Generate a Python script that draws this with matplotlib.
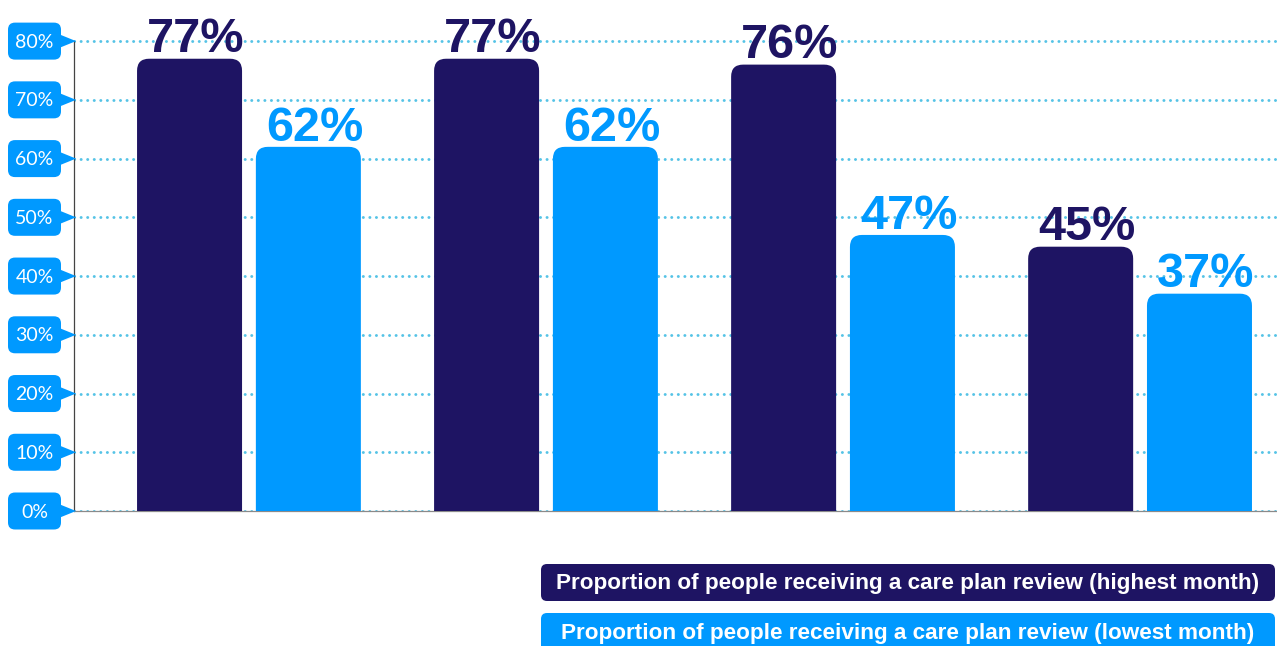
import matplotlib

matplotlib.use("Agg")
import matplotlib.pyplot as plt
import matplotlib.transforms as mtransforms
from matplotlib.patches import FancyBboxPatch, Polygon
import numpy as np

# Values per group (percent)
highest_month = [77, 77, 76, 45]
lowest_month = [62, 62, 47, 37]
series_labels = [
    "Proportion of people receiving a care plan review (highest month)",
    "Proportion of people receiving a care plan review (lowest month)",
]
y_ticks = [0, 10, 20, 30, 40, 50, 60, 70, 80]

NAVY = "#1e1463"
BLUE = "#0099ff"
DOTS = "#55c3e6"

W, H = 1277, 646
fig = plt.figure(figsize=(W / 100, H / 100), dpi=100)
ax = fig.add_axes([74 / W, 1 - 511 / H, 1 - 74 / W, 511 / H])

x = np.arange(len(highest_month))
bar_w = 0.3535
offset = 0.2
ax.set_xlim(-0.589, 3.461)
ax.set_ylim(0, 87)

bars_hi = ax.bar(x - offset, highest_month, bar_w, color=NAVY)
bars_lo = ax.bar(x + offset, lowest_month, bar_w, color=BLUE)

# pixel size of one data unit in x and y
p0 = ax.transData.transform((0, 0))
p1 = ax.transData.transform((1, 1))
px_x, px_y = p1 - p0


def round_top(bars, color, radius_px=12):
    rx = radius_px / px_x
    ry = radius_px / px_y
    for b in bars:
        b.set_visible(False)
        bx, by = b.get_x(), b.get_y()
        bw, bh = b.get_width(), b.get_height()
        # extend below zero so only the top corners show rounding
        ax.add_patch(
            FancyBboxPatch(
                (bx, by - 3 * ry),
                bw,
                bh + 3 * ry,
                boxstyle=f"round,pad=0,rounding_size={rx}",
                mutation_aspect=ry / rx,
                facecolor=color,
                edgecolor="none",
                zorder=3,
            )
        )


round_top(bars_hi, NAVY)
round_top(bars_lo, BLUE)

for bars, vals, color in [(bars_hi, highest_month, NAVY), (bars_lo, lowest_month, BLUE)]:
    for b, v in zip(bars, vals):
        ax.annotate(
            f"{v}%",
            (b.get_x() + b.get_width() / 2, v),
            xytext=(4.5, 4.5),
            textcoords="offset points",
            ha="center",
            va="baseline",
            fontsize=35,
            fontweight="bold",
            family="Liberation Sans",
            color=color,
            zorder=5,
        )

ax.set_yticks(y_ticks)
ax.tick_params(length=0, labelleft=False, labelbottom=False)
ax.set_xticks([])
ax.grid(axis="y", color=DOTS, linestyle=(0, (0.05, 2.2)), linewidth=2.1,
        dash_capstyle="round")
ax.set_axisbelow(True)
for side in ["top", "right"]:
    ax.spines[side].set_visible(False)
ax.spines["left"].set_bounds(0, 80)
ax.spines["left"].set_color("#444444")
ax.spines["left"].set_linewidth(0.9)
ax.spines["bottom"].set_color("#8a8a8a")
ax.spines["bottom"].set_linewidth(0.9)

# tick labels: rounded tags with a pointer, in pixel units anchored at the axis
px = mtransforms.Affine2D().scale(fig.dpi / 100)
for v in y_ticks:
    tr = px + mtransforms.ScaledTranslation(0, v, ax.get_yaxis_transform())
    ax.add_patch(
        FancyBboxPatch(
            (-66, -18.5), 53, 37,
            boxstyle="round,pad=0,rounding_size=7",
            facecolor=BLUE, edgecolor="none", transform=tr, clip_on=False, zorder=6,
        )
    )
    ax.add_patch(
        Polygon([(-14, 6.5), (2, 0), (-14, -6.5)], closed=True,
                facecolor=BLUE, edgecolor="none", transform=tr, clip_on=False, zorder=6)
    )
    ax.text(-39.5, -1, f"{v}%", transform=tr, ha="center", va="center",
            fontsize=14, family="Lato", color="white", zorder=7)

# legend tags along the bottom right
for (y0, y1), label, color in zip([(564, 601), (613, 652)], series_labels, [NAVY, BLUE]):
    fig.patches.append(
        FancyBboxPatch(
            (541, H - y1), 1275 - 541, y1 - y0,
            boxstyle="round,pad=0,rounding_size=6",
            facecolor=color, edgecolor="none", transform=px,
        )
    )
    fig.text((541 + 1275) / 2 / W, 1 - ((y0 + min(y1, 651)) / 2 + 1) / H, label,
             ha="center", va="center", fontsize=16.2, fontweight="bold",
             family="Liberation Sans", color="white")

fig.savefig("out.png", dpi=100)
